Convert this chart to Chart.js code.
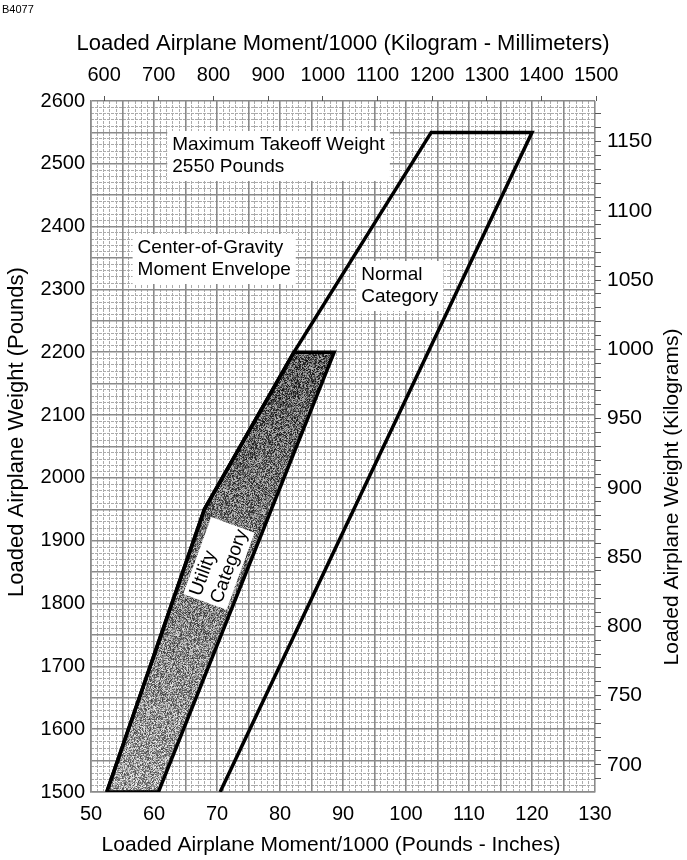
<!DOCTYPE html>
<html>
<head>
<meta charset="utf-8">
<script src="https://cdn.jsdelivr.net/npm/chart.js@4/dist/chart.umd.min.js"></script>
<style>
  html, body { margin: 0; padding: 0; background: #fff; }
  #wrap { width: 687px; height: 860px; position: relative; }
  canvas { display: block; }
</style>
</head>
<body>
<div id="wrap"><canvas id="c" width="687" height="860"></canvas></div>
<script>
// ---------------- data ----------------
const chartCode = 'B4077';
const xTitleBottom = 'Loaded Airplane Moment/1000 (Pounds - Inches)';
const xTitleTop = 'Loaded Airplane Moment/1000 (Kilogram - Millimeters)';
const yTitleLeft = 'Loaded Airplane Weight (Pounds)';
const yTitleRight = 'Loaded Airplane Weight (Kilograms)';

const momentMin = 50, momentMax = 130;      // moment/1000 lb-in
const weightMin = 1500, weightMax = 2600;   // lb

const kgmmTickLabels = [600, 700, 800, 900, 1000, 1100, 1200, 1300, 1400, 1500];
const kgTickLabels = [700, 750, 800, 850, 900, 950, 1000, 1050, 1100, 1150];

// Normal category envelope (outline)
const normalMoment = [52.5, 68, 82.2, 104, 120, 70.5];
const normalWeight = [1500, 1950, 2200, 2550, 2550, 1500];

// Utility category envelope (shaded, closed)
const utilityMoment = [52.5, 68, 82.2, 88.6, 60.7, 52.5];
const utilityWeight = [1500, 1950, 2200, 2200, 1500, 1500];

const LBIN_TO_KGMM = 11.521246;   // 1 lb-in = 11.52 kg-mm
const LB_TO_KG = 0.45359237;

// ---------------- helpers ----------------
const FONT = "'Liberation Sans', Arial, Helvetica, sans-serif";
Chart.defaults.font.family = FONT;
Chart.defaults.color = '#000';

const toXY = (xs, ys) => xs.map((x, i) => ({ x: x, y: ys[i] }));

const notes = [
  { lines: ['Maximum Takeoff Weight', '2550 Pounds'], x: 62.9, y: 2530 },
  { lines: ['Center-of-Gravity', 'Moment Envelope'], x: 57.4, y: 2366 },
  { lines: ['Normal', 'Category'], x: 92.9, y: 2323 }
];
const rotatedNote = { lines: ['Utility', 'Category'], x: 70.3, y: 1864, angle: -70 };

const notesPlugin = {
  id: 'notes',
  afterDatasetsDraw(chart) {
    const { ctx, scales } = chart;
    const sx = scales.x, sy = scales.y;
    ctx.save();
    ctx.font = '19px ' + FONT;
    ctx.textBaseline = 'middle';
    ctx.textAlign = 'left';
    const lh = 22;
    notes.forEach(n => {
      const px = sx.getPixelForValue(n.x);
      const py = sy.getPixelForValue(n.y);
      const w = Math.max(...n.lines.map(t => ctx.measureText(t).width));
      ctx.fillStyle = '#fff';
      ctx.fillRect(px - 5, py - lh / 2 - 3, w + 10, lh * n.lines.length + 6);
      ctx.fillStyle = '#000';
      n.lines.forEach((t, i) => ctx.fillText(t, px, py + i * lh));
    });
    // rotated utility label
    const r = rotatedNote;
    const cx = sx.getPixelForValue(r.x), cy = sy.getPixelForValue(r.y);
    ctx.translate(cx, cy);
    ctx.rotate(r.angle * Math.PI / 180);
    const bw = 82, bh = 46;
    ctx.fillStyle = '#fff';
    ctx.fillRect(-bw / 2, -bh / 2, bw, bh);
    ctx.fillStyle = '#000';
    r.lines.forEach((t, i) => ctx.fillText(t, -bw / 2 + 3, -11 + i * 22));
    ctx.restore();

    // code label + axis titles
    ctx.save();
    ctx.fillStyle = '#000';
    ctx.textBaseline = 'middle';
    ctx.font = '11px ' + FONT;
    ctx.fillText(chartCode, 2, 10);
    ctx.textAlign = 'center';
    ctx.font = '22px ' + FONT;
    ctx.fillText(xTitleTop, 343, 44);
    ctx.font = '21px ' + FONT;
    ctx.fillText(xTitleBottom, 331, 845);
    ctx.save();
    ctx.translate(17, 432);
    ctx.rotate(-Math.PI / 2);
    ctx.font = '22px ' + FONT;
    ctx.fillText(yTitleLeft, 0, 0);
    ctx.restore();
    ctx.translate(672, 497);
    ctx.rotate(-Math.PI / 2);
    ctx.font = '21px ' + FONT;
    ctx.fillText(yTitleRight, 0, 0);
    ctx.restore();
  }
};

// stippled grey fill (deterministic grain), darker near the top of the shaded band
const shadeFill = (context) => {
  const chart = context.chart;
  const { chartArea, scales } = chart;
  if (!chartArea) return '#888';
  if (chart.$stipple) return chart.$stipple;
  const W = chart.canvas.width, H = chart.canvas.height;
  const off = document.createElement('canvas');
  off.width = W; off.height = H;
  const octx = off.getContext('2d');
  const img = octx.createImageData(W, H);
  const yTop = scales.y.getPixelForValue(Math.max(...utilityWeight));
  const yBot = scales.y.getPixelForValue(Math.min(...utilityWeight));
  let s = 987654321;
  for (let py = 0; py < H; py++) {
    let t = (py - yTop) / (yBot - yTop);
    t = Math.min(1, Math.max(0, t));
    const mean = 92 + t * 70;
    for (let px = 0; px < W; px++) {
      s = (s * 1103515245 + 12345) & 0x7fffffff;
      const r = s / 0x7fffffff;
      let v = mean + (r - 0.5) * 170;
      v = Math.max(0, Math.min(255, v));
      const k = (py * W + px) * 4;
      img.data[k] = v; img.data[k + 1] = v; img.data[k + 2] = v; img.data[k + 3] = 255;
    }
  }
  octx.putImageData(img, 0, 0);
  chart.$stipple = chart.ctx.createPattern(off, 'no-repeat');
  return chart.$stipple;
};

const MAJOR = '#8a8a8a', MINOR = '#ababab';
const numLabel = v => String(v);

new Chart(document.getElementById('c'), {
  type: 'scatter',
  data: {
    datasets: [
      {
        label: 'Normal Category',
        data: toXY(normalMoment, normalWeight),
        showLine: true, fill: false,
        borderColor: '#000', borderWidth: 3.5, pointRadius: 0,
        borderJoinStyle: 'miter', tension: 0, order: 1
      },
      {
        label: 'Utility Category',
        data: toXY(utilityMoment, utilityWeight),
        showLine: true, fill: 'shape',
        backgroundColor: shadeFill,
        borderColor: '#000', borderWidth: 3.5, pointRadius: 0,
        borderJoinStyle: 'miter', tension: 0, order: 2
      }
    ]
  },
  options: {
    responsive: false,
    animation: false,
    devicePixelRatio: 1,
    layout: { padding: { top: 28, left: 0, right: 0, bottom: 0 } },
    plugins: { legend: { display: false }, tooltip: { enabled: false } },
    scales: {
      xm: {
        type: 'linear', position: 'bottom', min: momentMin, max: momentMax,
        ticks: { display: false, stepSize: 1, autoSkip: false },
        grid: { color: c => (c.tick && c.tick.value % 5 === 0) ? 'rgba(0,0,0,0)' : MINOR, lineWidth: 1, drawTicks: false },
        border: { display: false, dash: [3, 1] },
        afterFit: s => { s.height = 0; }
      },
      ym: {
        type: 'linear', position: 'left', min: weightMin, max: weightMax,
        ticks: { display: false, stepSize: 10, autoSkip: false },
        grid: { color: c => (c.tick && c.tick.value % 50 === 0) ? 'rgba(0,0,0,0)' : MINOR, lineWidth: 1, drawTicks: false },
        border: { display: false, dash: [3, 1] },
        afterFit: s => { s.width = 0; }
      },
      x: {
        type: 'linear', position: 'bottom', min: momentMin, max: momentMax,
        ticks: { stepSize: 5, autoSkip: false, maxRotation: 0, padding: 10, font: { size: 20 },
          callback: v => (v % 10 === 0 ? numLabel(v) : '') },
        grid: { color: MAJOR, lineWidth: 1.6, drawTicks: false },
        border: { color: MAJOR, width: 1.6 },
        afterFit: s => { s.height = 68; }
      },
      y: {
        type: 'linear', position: 'left', min: weightMin, max: weightMax,
        ticks: { stepSize: 50, autoSkip: false, padding: 6, font: { size: 20 },
          callback: v => (v % 100 === 0 ? numLabel(v) : '') },
        grid: { color: MAJOR, lineWidth: 1.6, drawTicks: false },
        border: { color: MAJOR, width: 1.6 },
        afterFit: s => { s.width = 91; }
      },
      xk: {
        type: 'linear', position: 'top', min: momentMin * LBIN_TO_KGMM, max: momentMax * LBIN_TO_KGMM,
        afterBuildTicks: s => { s.ticks = kgmmTickLabels.map(v => ({ value: v })); },
        ticks: { autoSkip: false, maxRotation: 0, padding: 9, font: { size: 20 }, callback: numLabel },
        grid: { drawOnChartArea: false, tickLength: 5, tickColor: '#555' },
        border: { display: false },
        afterFit: s => { s.height = 73; }
      },
      yk: {
        type: 'linear', position: 'right', min: weightMin * LB_TO_KG, max: weightMax * LB_TO_KG,
        afterBuildTicks: s => {
          const t = [];
          for (let v = 690; v <= 1170; v += 10) t.push({ value: v });
          s.ticks = t;
        },
        ticks: { autoSkip: false, padding: 6, font: { size: 21 },
          callback: v => (kgTickLabels.includes(v) ? numLabel(v) : '') },
        grid: { drawOnChartArea: false, tickLength: 6, tickColor: '#555' },
        border: { display: false },
        afterFit: s => { s.width = 92; }
      }
    }
  },
  plugins: [notesPlugin]
});
</script>
</body>
</html>
